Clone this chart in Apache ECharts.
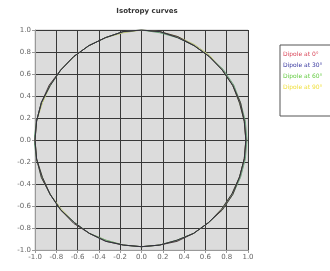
<!DOCTYPE html>
<html><head><meta charset="utf-8">
<script src="https://cdn.jsdelivr.net/npm/echarts@6/dist/echarts.min.js"></script>
<style>html,body{margin:0;padding:0;background:#fff}#c{width:330px;height:271px}</style>
</head><body><div id="c"></div>
<script>
const seriesNames = ['Dipole at 0°', 'Dipole at 30°', 'Dipole at 60°', 'Dipole at 90°'];
const legendColors = ['#d9475a', '#3a3aa0', '#66cc44', '#f0e040'];
const lineColors = ['#4a3c3c', '#33333f', '#6aa078', '#b8c070'];
const lineZ = [4, 5, 3, 2];
const angles = [0,10,20,30,40,50,60,70,80,90,100,110,120,130,140,150,160,170,180,190,200,210,220,230,240,250,260,270,280,290,300,310,320,330,340,350,360];
const radius0 = [0.98,0.98,0.99,0.99,0.99,0.99,0.99,1.00,1.00,1.00,1.00,0.99,0.99,0.99,0.99,1.00,1.00,1.00,1.00,1.00,1.00,0.99,0.99,0.99,0.98,0.98,0.97,0.97,0.97,0.98,0.98,0.98,0.99,0.99,0.98,0.98,0.98];
const radius30 = [0.98,0.98,0.98,0.99,0.99,0.99,0.99,0.99,1.00,1.00,1.00,0.99,0.99,0.99,0.99,0.99,1.00,1.00,1.00,1.00,0.99,0.99,0.99,0.98,0.98,0.98,0.97,0.97,0.97,0.97,0.98,0.98,0.98,0.98,0.98,0.98,0.98];
const radius60 = [0.99,0.99,0.99,1.00,1.00,0.99,0.99,0.99,0.99,1.00,1.00,0.99,0.99,0.99,0.99,0.99,1.00,1.00,1.01,1.00,1.00,0.99,0.99,0.98,0.98,0.97,0.97,0.97,0.97,0.97,0.98,0.98,0.99,0.99,0.99,0.99,0.99];
const radius90 = [0.98,0.98,0.98,0.99,0.99,1.00,1.00,1.00,1.00,1.00,0.99,0.99,0.99,0.99,0.99,0.99,0.99,1.00,1.00,1.00,0.99,0.99,0.98,0.98,0.98,0.97,0.97,0.97,0.97,0.97,0.98,0.98,0.98,0.98,0.98,0.98,0.98];
const radii = [radius0, radius30, radius60, radius90];
const ticks = [-1.0,-0.8,-0.6,-0.4,-0.2,0.0,0.2,0.4,0.6,0.8,1.0];

function toXY(r){ return angles.map((a,i)=>[r[i]*Math.cos(a*Math.PI/180), r[i]*Math.sin(a*Math.PI/180)]); }

const chart = echarts.init(document.getElementById('c'));
const fmt = v => v.toFixed(1);
const axisCommon = {
  min: ticks[0], max: ticks[ticks.length-1], interval: 0.2,
  axisLine: {show: true, onZero: false, lineStyle: {color: '#999'}},
  axisTick: {show: true, length: 3, lineStyle: {color: '#999'}},
  splitLine: {show: true, lineStyle: {color: '#383838', width: 1}},
  axisLabel: {fontSize: 7, color: '#666', fontFamily: 'DejaVu Sans', formatter: fmt, margin: 4}
};
chart.setOption({
  animation: false,
  title: {text: 'Isotropy curves', left: 142, top: 3, textAlign: 'center',
    textStyle: {fontSize: 7, fontWeight: 'bold', color: '#333', fontFamily: 'DejaVu Sans'}},
  grid: {left: 35, right: 82, top: 30, bottom: 21, show: true, backgroundColor: '#dcdcdc', borderColor: '#c8c8c8', borderWidth: 1},
  xAxis: Object.assign({type: 'value'}, axisCommon),
  yAxis: Object.assign({type: 'value'}, axisCommon),
  legend: {
    orient: 'vertical', left: 280, top: 45,
    itemWidth: 0, itemHeight: 0, itemGap: 5, icon: 'rect',
    padding: [6, 20, 26, 2],
    borderColor: '#555', borderWidth: 1, backgroundColor: '#fff',
    data: seriesNames.map((n,i)=>({name: n, textStyle: {color: legendColors[i]}})),
    textStyle: {fontSize: 6, fontFamily: 'DejaVu Sans', padding: [0,0,0,-4]}
  },
  series: seriesNames.map((n,i)=>({
    name: n, type: 'line', data: toXY(radii[i]), showSymbol: false, symbol: 'none',
    color: legendColors[i], z: lineZ[i],
    lineStyle: {width: 1, color: lineColors[i]}
  }))
});
</script></body></html>
